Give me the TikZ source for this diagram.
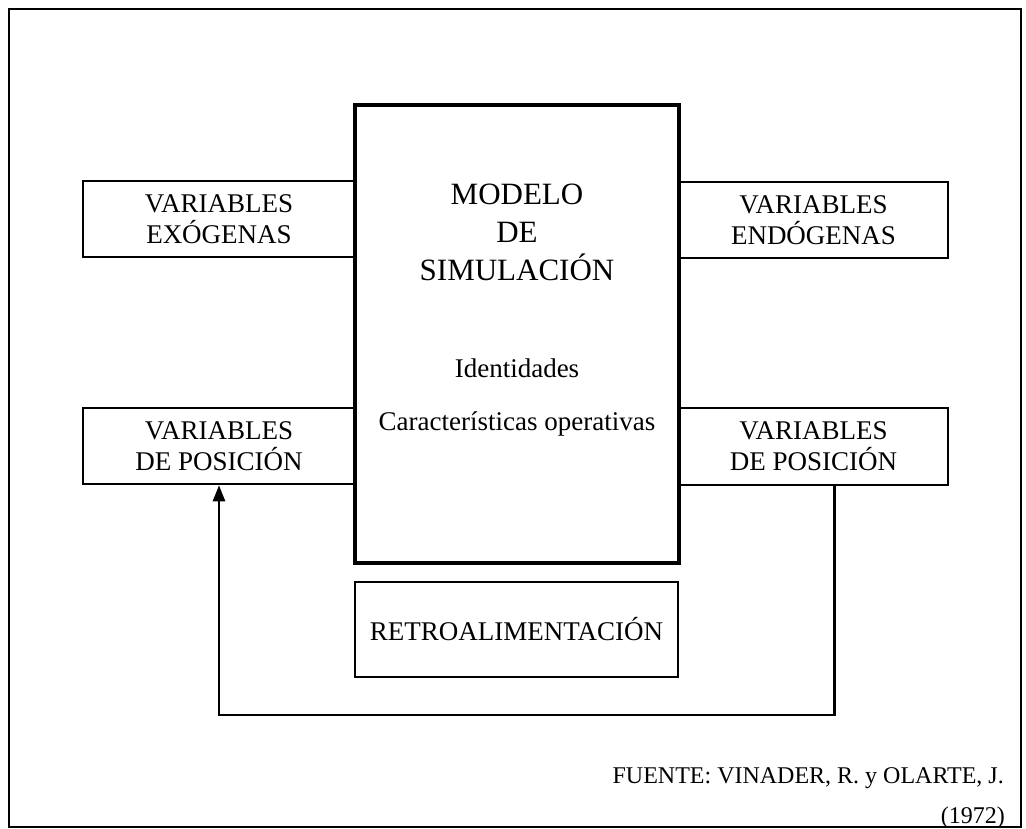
\documentclass[tikz,border=0pt]{standalone}
\usepackage{fontspec}
\setmainfont{Liberation Serif}
\usetikzlibrary{arrows.meta}
\begin{document}
\begin{tikzpicture}[x=1pt,y=-1pt,
  sbox/.style={draw, line width=2.5pt, inner sep=0pt, align=center, font=\fontsize{27}{31}\selectfont},
  bigbox/.style={draw, line width=4.5pt, inner sep=0pt},
  txt/.style={inner sep=0pt, align=center},
  conn/.style={line width=2.5pt, -{Triangle[length=16pt,width=12pt]}}]
\useasboundingbox (0,0) rectangle (1026,829);
\node[draw, line width=2.5pt, minimum width=1012pt, minimum height=818pt, inner sep=0pt] (frame) at (515,418) {};
% central model box
\node[bigbox, minimum width=324pt, minimum height=458pt] (mod) at (517,334) {};
\node[txt, font=\fontsize{31}{38}\selectfont] (title) at (517,232) {MODELO\\DE\\SIMULACIÓN};
\node[txt, font=\fontsize{27}{31}\selectfont] (ident) at (517,368) {Identidades};
\node[txt, font=\fontsize{27}{31}\selectfont] (caract) at (517,424) {Características operativas};
% side boxes
\node[sbox, minimum width=272pt, minimum height=76pt] (exo) at (219,219) {VARIABLES\\EXÓGENAS};
\node[sbox, minimum width=269pt, minimum height=76pt] (endo) at (813.5,220) {VARIABLES\\ENDÓGENAS};
\node[sbox, minimum width=272pt, minimum height=76pt] (vpl) at (219,446) {VARIABLES\\DE POSICIÓN};
\node[sbox, minimum width=269pt, minimum height=77pt] (vpr) at (813.5,446.5) {VARIABLES\\DE POSICIÓN};
% feedback box
\node[sbox, minimum width=323pt, minimum height=95pt] (retro) at (516.5,629.5) {RETROALIMENTACIÓN};
% feedback connector
\coordinate (fb) at (219,715);
\draw[conn] ([xshift=21pt]vpr.south) |- (fb) -- (vpl.south);
% source
\node[txt, anchor=east, font=\fontsize{24}{31}\selectfont] (src1) at (1004,778) {FUENTE: VINADER, R. y OLARTE, J.};
\node[txt, anchor=east, font=\fontsize{24}{31}\selectfont] (src2) at (1005,818) {(1972)};
\end{tikzpicture}
\end{document}
